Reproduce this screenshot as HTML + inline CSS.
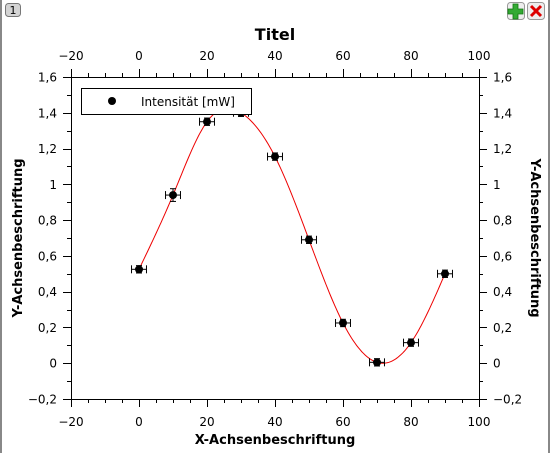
<!DOCTYPE html>
<html><head><meta charset="utf-8"><style>
html,body{margin:0;padding:0;background:#fff;width:550px;height:453px;overflow:hidden;font-family:"DejaVu Sans","Liberation Sans",sans-serif}
</style></head><body>
<svg id="c" width="550" height="453" xmlns="http://www.w3.org/2000/svg">
<rect x="0" y="0" width="2" height="453" fill="#888"/>
<rect x="548" y="0" width="2" height="453" fill="#888"/>
<g><rect x="5.5" y="3.5" width="15" height="13" rx="3" fill="#d4d4d4" stroke="#777"/><text x="13" y="14" font-size="11" text-anchor="middle" fill="#000">1</text></g>
<g><rect x="507.5" y="2.5" width="17" height="17" rx="3" fill="#eee" stroke="#999"/><path d="M513 5h5v5h5v5h-5v5h-5v-5h-5v-5h5z" fill="#3a3" stroke="#171" stroke-width="0.8" transform="translate(0,-1)"/></g>
<g><rect x="527.5" y="2.5" width="17" height="17" rx="3" fill="#eee" stroke="#999"/><path d="M531 6l10 10M541 6l-10 10" stroke="#d00" stroke-width="3"/></g>
<text x="275" y="40" font-size="16" font-weight="bold" text-anchor="middle">Titel</text>
<text x="275" y="444" font-size="13" font-weight="bold" text-anchor="middle">X-Achsenbeschriftung</text>
<text transform="translate(22,238) rotate(-90)" font-size="13" font-weight="bold" text-anchor="middle">Y-Achsenbeschriftung</text>
<text transform="translate(531,238) rotate(90)" font-size="13" font-weight="bold" text-anchor="middle">Y-Achsenbeschriftung</text>
<g id="axes"></g>
<g id="marks"></g>
<g>
<rect x="81.5" y="88.5" width="170" height="26" fill="#fff" stroke="#000"/>
<circle cx="112" cy="101" r="4" fill="#000"/>
<text x="141" y="106" font-size="12">Intensität [mW]</text>
</g>
</svg>
<script>
const xValues=[0,10,20,30,40,50,60,70,80,90];
const yValues=[0.525,0.94,1.35,1.40,1.155,0.69,0.225,0.005,0.115,0.50];
const xErrors=[2.2,2.2,2.2,2.2,2.2,2.2,2.2,2.2,2.2,2.2];
const yErrors=[0.015,0.03,0.015,0.015,0.015,0.015,0.015,0.015,0.015,0.015];
const xTicks=[-20,0,20,40,60,80,100];
const yTicks=[-0.2,0,0.2,0.4,0.6,0.8,1,1.2,1.4,1.6];
const NS="http://www.w3.org/2000/svg";
const L=71,R=479,T=77,B=399;
function sx(v){return L+(v+20)/120*(R-L);}
function sy(v){return B-(v+0.2)/1.8*(B-T);}
function mk(t,a,p){const e=document.createElementNS(NS,t);for(const k in a)e.setAttribute(k,a[k]);p.appendChild(e);return e;}
const ax=document.getElementById('axes'),mg=document.getElementById('marks');
const frame=mk('rect',{x:L+.5,y:T+.5,width:R-L,height:B-T,fill:'none',stroke:'#000'},ax);


const fmt=v=>(Math.round(v*10)/10).toString().replace('.',',').replace('-','\u2212');
for(let v=-20;v<=100;v+=5){const x=Math.round(sx(v))+.5;const len=(v%20===0)?8:4;
mk('line',{x1:x,x2:x,y1:B,y2:B+len,stroke:'#000'},ax);mk('line',{x1:x,x2:x,y1:T,y2:T-len,stroke:'#000'},ax);}
xTicks.forEach(v=>{const x=sx(v);
const a=mk('text',{x:x,y:B+27,'font-size':12,'text-anchor':'middle'},ax);a.textContent=fmt(v);


const b=mk('text',{x:x,y:T-17,'font-size':12,'text-anchor':'middle'},ax);b.textContent=fmt(v);

});
for(let i=0;i<=18;i++){const v=-0.2+i*0.1;const y=Math.round(sy(v))+.5;const len=(i%2===0)?8:4;
mk('line',{x1:L-len,x2:L,y1:y,y2:y,stroke:'#000'},ax);mk('line',{x1:R,x2:R+len,y1:y,y2:y,stroke:'#000'},ax);}
yTicks.forEach(v=>{const y=sy(v)+4.5;
const a=mk('text',{x:L-14,y:y,'font-size':12,'text-anchor':'end'},ax);a.textContent=fmt(v);


const b=mk('text',{x:R+14,y:y,'font-size':12},ax);b.textContent=fmt(v);

});
// natural cubic spline through data
const n=xValues.length;
const M=new Array(n).fill(0);
(function(){const h=[],al=[],l=[1],mu=[0],z=[0];
for(let i=0;i<n-1;i++)h.push(xValues[i+1]-xValues[i]);
for(let i=1;i<n-1;i++)al[i]=3/h[i]*(yValues[i+1]-yValues[i])-3/h[i-1]*(yValues[i]-yValues[i-1]);
for(let i=1;i<n-1;i++){l[i]=2*(xValues[i+1]-xValues[i-1])-h[i-1]*mu[i-1];mu[i]=h[i]/l[i];z[i]=(al[i]-h[i-1]*z[i-1])/l[i];}
const c=new Array(n).fill(0);
for(let j=n-2;j>=1;j--)c[j]=z[j]-mu[j]*c[j+1];
for(let i=0;i<n;i++)M[i]=c[i];
window._h=h;})();
function spline(t){const h=window._h;let i=Math.min(n-2,Math.max(0,Math.floor((t-xValues[0])/h[0])));
const dx=t-xValues[i];const c0=M[i],c1=M[i+1];
const b=(yValues[i+1]-yValues[i])/h[i]-h[i]*(c1+2*c0)/3;const d=(c1-c0)/(3*h[i]);
return yValues[i]+b*dx+c0*dx*dx+d*dx*dx*dx;}
let d='';for(let t=xValues[0];t<=xValues[n-1]+1e-9;t+=0.5){d+=(d?'L':'M')+sx(t).toFixed(1)+','+sy(spline(t)).toFixed(1);}
const fit=mk('path',{d:d,fill:'none',stroke:'#e00','stroke-width':1},mg);


xValues.forEach((xv,i)=>{const x=sx(xv),y=sy(yValues[i]);const g=mk('g',{},mg);


const x1=sx(xv-xErrors[i]),x2=sx(xv+xErrors[i]),y1=sy(yValues[i]+yErrors[i]),y2=sy(yValues[i]-yErrors[i]);
mk('line',{x1:x1,x2:x2,y1:y,y2:y,stroke:'#000'},g);
mk('line',{x1:x1,x2:x1,y1:y-4,y2:y+4,stroke:'#000'},g);
mk('line',{x1:x2,x2:x2,y1:y-4,y2:y+4,stroke:'#000'},g);
mk('line',{x1:x,x2:x,y1:y1-1,y2:y2+1,stroke:'#000'},g);
mk('line',{x1:x-3,x2:x+3,y1:y1-1,y2:y1-1,stroke:'#000'},g);
mk('line',{x1:x-3,x2:x+3,y1:y2+1,y2:y2+1,stroke:'#000'},g);
mk('circle',{cx:x,cy:y,r:4,fill:'#000'},g);});
</script>
</body></html>
